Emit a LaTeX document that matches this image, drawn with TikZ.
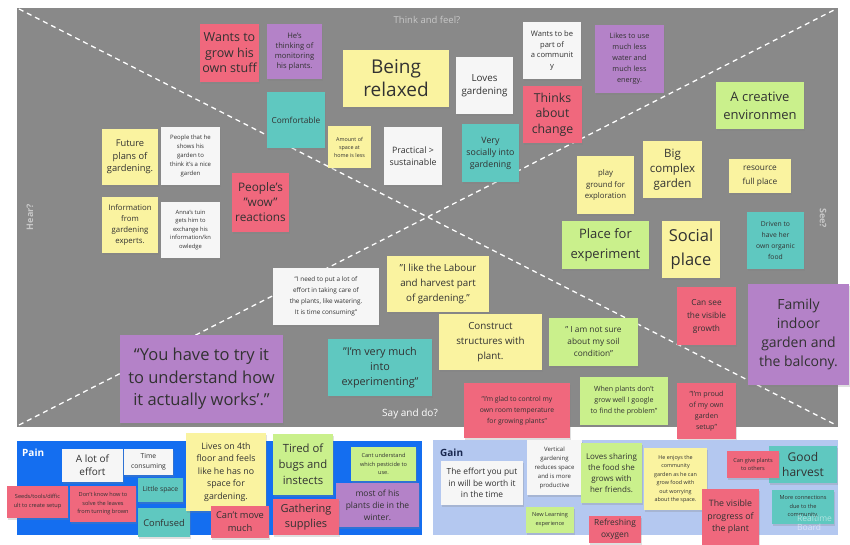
\documentclass[tikz,border=0pt]{standalone}
\usepackage{fontspec}
\setmainfont{Open Sans}
\usetikzlibrary{shadows}

\definecolor{panelgray}{RGB}{137,137,137}
\definecolor{labelgray}{RGB}{200,200,200}
\definecolor{inkN}{RGB}{50,50,50}
\definecolor{pinkN}{RGB}{240,104,125}
\definecolor{purpleN}{RGB}{180,130,200}
\definecolor{yellowN}{RGB}{250,243,160}
\definecolor{whiteN}{RGB}{246,246,246}
\definecolor{tealN}{RGB}{95,200,192}
\definecolor{greenN}{RGB}{202,240,140}
\definecolor{painblue}{RGB}{20,110,240}
\definecolor{gainblue}{RGB}{180,200,240}
\definecolor{gainink}{RGB}{25,40,80}

\newcommand{\fsz}[2]{\fontsize{#1}{#2}\selectfont}

\begin{document}
\begin{tikzpicture}[x=1pt, y=-1pt,
    note/.style={inner sep=1pt, align=center, text=inkN,
      drop shadow={shadow xshift=0.5pt, shadow yshift=-2pt, opacity=0.25}},
    diag/.style={white, line width=1.3pt, dash pattern=on 5pt off 4pt},
    quad/.style={text=labelgray, inner sep=0pt}]
    \useasboundingbox (0,0) rectangle (850,545);

    % Empathy map panel
    \fill[panelgray] (17,8) rectangle (838,427);
    \coordinate (tl) at (19,9);
    \coordinate (tr) at (836,9);
    \coordinate (bl) at (19,425);
    \coordinate (br) at (836,425);
    \draw[diag] (tl) -- (br);
    \draw[diag] (bl) -- (tr);

    % Quadrant labels
    \node[quad, font=\fsz{9.5}{11}] (think) at (427,20) {Think and feel?};
    \node[quad, font=\bfseries\fsz{9}{11}, rotate=90] (hear) at (30,217) {Hear?};
    \node[quad, font=\bfseries\fsz{9}{11}, rotate=-90] (see) at (823,218) {See?};
    \node[text=white, inner sep=0pt, font=\fsz{10}{12}] (say) at (410,414) {Say and do?};

    % Think and feel
    \node[note, fill=pinkN, minimum width=59, minimum height=58, font=\fsz{12.5}{15.5}] (grow) at (229.5,53) {Wants to\\grow his\\own stuff};
    \node[note, fill=purpleN, minimum width=55, minimum height=55, font=\fsz{7.6}{10}] (monitor) at (294.5,51.5) {He's\\thinking of\\monitoring\\his plants.};
    \node[note, fill=tealN, minimum width=58, minimum height=56, font=\fsz{8.3}{10}] (comfort) at (296,120) {Comfortable};
    \node[note, fill=yellowN, minimum width=106, minimum height=57, font=\fsz{19}{23}] (relaxed) at (396,78.5) {Being\\relaxed};
    \node[note, fill=whiteN, minimum width=57, minimum height=57, font=\fsz{9.8}{13}] (loves) at (484.5,85.5) {Loves\\gardening};
    \node[note, fill=whiteN, minimum width=58, minimum height=57, font=\fsz{7.6}{10.5}] (community) at (552,50.5) {Wants to be\\part of\\a communit\\y};
    \node[note, fill=pinkN, minimum width=59, minimum height=57, font=\fsz{12.3}{15.5}] (change) at (552.5,114.5) {Thinks\\about\\change};
    \node[note, fill=purpleN, minimum width=69, minimum height=68, font=\fsz{7.3}{11}] (water) at (629.5,59) {Likes to use\\much less\\water and\\much less\\energy.};
    \node[note, fill=yellowN, minimum width=43, minimum height=42, font=\fsz{5.4}{8}] (space) at (349.5,147) {Amount of\\space at\\home is less};
    \node[note, fill=whiteN, minimum width=58, minimum height=58, font=\fsz{8.8}{12}] (practical) at (413,156) {Practical >\\sustainable};
    \node[note, fill=tealN, minimum width=57, minimum height=58, font=\fsz{8.8}{12}] (socially) at (490.5,153) {Very\\socially into\\gardening};

    % Hear
    \node[note, fill=yellowN, minimum width=56, minimum height=56, font=\fsz{9.3}{12.5}] (future) at (130,157) {Future\\plans of\\gardening.};
    \node[note, fill=whiteN, minimum width=59, minimum height=58, font=\fsz{6}{9}] (nice) at (190.5,156) {People that he\\shows his\\garden to\\think it's a nice\\garden};
    \node[note, fill=pinkN, minimum width=57, minimum height=59, font=\fsz{11.8}{15}] (wow) at (260.5,202.5) {People's\\"wow"\\reactions};
    \node[note, fill=yellowN, minimum width=56, minimum height=56, font=\fsz{7.8}{10.7}] (info) at (130,225) {Information\\from\\gardening\\experts.};
    \node[note, fill=whiteN, minimum width=59, minimum height=56, font=\fsz{5.8}{8.5}] (anna) at (190.5,230) {Anna's tuin\\gets him to\\exchange his\\information/kn\\owledge};

    % See
    \node[note, fill=greenN, minimum width=88, minimum height=47, font=\fsz{13}{18}] (creative) at (760,105.5) {A creative\\environmen};
    \node[note, fill=yellowN, minimum width=57, minimum height=58, font=\fsz{7.8}{11.5}] (play) at (605.5,185) {play\\ground for\\exploration};
    \node[note, fill=yellowN, minimum width=59, minimum height=57, font=\fsz{11.5}{15}] (big) at (672.5,169.5) {Big\\complex\\garden};
    \node[note, fill=yellowN, minimum width=62, minimum height=34, font=\fsz{8.3}{13.5}] (resource) at (760,176) {resource\\full place};
    \node[note, fill=greenN, minimum width=87, minimum height=48, font=\fsz{13}{20}] (experiment) at (605.5,245) {Place for\\experiment};
    \node[note, fill=yellowN, minimum width=58, minimum height=57, font=\fsz{16.5}{24}] (social) at (691,249.5) {Social\\place};
    \node[note, fill=tealN, minimum width=57, minimum height=57, font=\fsz{6.8}{11}] (driven) at (775.5,240.5) {Driven to\\have her\\own organic\\food};
    \node[note, fill=pinkN, minimum width=59, minimum height=58, font=\fsz{8.3}{13}] (visible) at (706.5,316) {Can see\\the visible\\growth};
    \node[note, fill=purpleN, minimum width=101, minimum height=101, font=\fsz{14}{19}] (family) at (798.5,334.5) {Family\\indoor\\garden and\\the balcony.};

    % Say and do
    \node[note, fill=whiteN, minimum width=106, minimum height=57, font=\fsz{6.4}{11}] (effort) at (326,296.5) {"I need to put a lot of\\effort in taking care of\\the plants, like watering.\\It is time consuming"};
    \node[note, fill=yellowN, minimum width=102, minimum height=56, font=\fsz{9.8}{15}] (labour) at (438,284) {"I like the Labour\\and harvest part\\of gardening."};
    \node[note, fill=yellowN, minimum width=103, minimum height=56, font=\fsz{9.8}{15}] (construct) at (490.5,342) {Construct\\structures with\\plant.};
    \node[note, fill=greenN, minimum width=89, minimum height=48, font=\fsz{8.3}{12}] (soil) at (593.5,342) {" I am not sure\\about my soil\\condition"};
    \node[note, fill=tealN, minimum width=104, minimum height=57, font=\fsz{10.8}{15}] (experimenting) at (380,367.5) {"I'm very much\\into\\experimenting"};
    \node[note, fill=purpleN, minimum width=163, minimum height=88, font=\fsz{16.5}{22.5}] (try) at (201.5,379) {“You have to try it\\to understand how\\it actually works'."};
    \node[note, fill=pinkN, minimum width=106, minimum height=55, font=\fsz{6.8}{11}] (glad) at (517,410.5) {"I'm glad to control my\\own room temperature\\for growing plants"};
    \node[note, fill=greenN, minimum width=88, minimum height=48, font=\fsz{7.1}{11}] (google) at (624,401) {When plants don't\\grow well I google\\to find the problem"};
    \node[note, fill=pinkN, minimum width=59, minimum height=56, font=\fsz{7.1}{11}] (proud) at (706.5,411) {"I'm proud\\of my own\\garden\\setup"};

    % Pain
    \fill[painblue] (17,441) rectangle (422,535);
    \node[anchor=west, text=white, inner sep=0pt, font=\bfseries\fsz{10}{12}] (pain) at (22,453) {Pain};
    \node[note, fill=whiteN, minimum width=61, minimum height=33, font=\fsz{10}{13}] (lot) at (92.5,465.5) {A lot of\\effort};
    \node[note, fill=whiteN, minimum width=49, minimum height=26, font=\fsz{6.8}{10.5}] (time) at (148.5,462) {Time\\consuming};
    \node[note, fill=tealN, minimum width=45, minimum height=24, font=\fsz{6.8}{9}] (little) at (160.5,490) {Little space};
    \node[note, fill=pinkN, minimum width=61, minimum height=32, font=\fsz{5.6}{9}] (seeds) at (37.5,502) {Seeds/tools/diffic\\ult to create setup};
    \node[note, fill=pinkN, minimum width=66, minimum height=36, font=\fsz{5.6}{8.5}] (leaves) at (103,504) {Don't know how to\\solve the leaves\\from turning brown};
    \node[note, fill=tealN, minimum width=52, minimum height=29, font=\fsz{9.3}{12}] (confused) at (164,522.5) {Confused};
    \node[note, fill=yellowN, minimum width=80, minimum height=78, font=\fsz{8.8}{12.5}] (floor) at (226,472) {Lives on 4th\\floor and feels\\like he has no\\space for\\gardening.};
    \node[note, fill=pinkN, minimum width=58, minimum height=32, font=\fsz{9.3}{13}] (move) at (240,522) {Can't move\\much};
    \node[note, fill=greenN, minimum width=60, minimum height=61, font=\fsz{11.3}{16}] (bugs) at (303,464.5) {Tired of\\bugs and\\instects};
    \node[note, fill=purpleN, minimum width=83, minimum height=44, font=\fsz{8.5}{12}] (winter) at (377.5,505) {most of his\\plants die in the\\winter.};
    \node[note, fill=pinkN, minimum width=66, minimum height=36, font=\fsz{11}{15}] (gathering) at (306,517) {Gathering\\supplies};
    \node[note, fill=greenN, minimum width=65, minimum height=34, font=\fsz{5.6}{8.5}] (pesticide) at (383.5,464) {Cant understand\\which pesticide to\\use.};

    % Gain
    \fill[gainblue] (433,440) rectangle (838,535);
    \node[anchor=west, text=gainink, inner sep=0pt, font=\bfseries\fsz{10}{12}] (gain) at (440,453) {Gain};
    \node[note, fill=whiteN, minimum width=82, minimum height=44, font=\fsz{8.4}{11.5}] (worth) at (482,483) {The effort you put\\in will be worth it\\in the time};
    \node[note, fill=whiteN, minimum width=55, minimum height=55, font=\fsz{6}{9}] (vertical) at (554.5,467.5) {Vertical\\gardening\\reduces space\\and is more\\productive};
    \node[note, fill=greenN, minimum width=48, minimum height=26, font=\fsz{5.6}{9}] (learning) at (550,520) {New Learning\\experience};
    \node[note, fill=greenN, minimum width=61, minimum height=60, font=\fsz{8}{11}] (sharing) at (611.5,473) {Loves sharing\\the food she\\grows with\\her friends.};
    \node[note, fill=pinkN, minimum width=52, minimum height=27, font=\fsz{8.4}{12}] (oxygen) at (615,529.5) {Refreshing\\oxygen};
    \node[note, fill=yellowN, minimum width=63, minimum height=62, font=\fsz{5.4}{8.5}] (enjoys) at (675.5,479) {He enjoys the\\community\\garden as he can\\grow food with\\out worrying\\about the space.};
    \node[note, fill=pinkN, minimum width=57, minimum height=56, font=\fsz{8.8}{12.5}] (progress) at (730.5,517) {The visible\\progress of\\the plant};
    \node[note, fill=tealN, minimum width=68, minimum height=37, font=\fsz{12}{15}] (harvest) at (803,464.5) {Good\\harvest};
    \node[note, fill=pinkN, minimum width=52, minimum height=27, font=\fsz{5.6}{8.5}] (give) at (753,464.5) {Can give plants\\to others};
    \node[note, fill=tealN, minimum width=62, minimum height=34, font=\fsz{5.6}{8.5}] (connections) at (803,507) {More connections\\due to the\\community.};

    % Watermark
    \node[anchor=west, align=left, inner sep=0pt, text=white, text opacity=0.5, font=\fsz{8.5}{9}] (board) at (797,523) {Realtime\\Board};
\end{tikzpicture}
\end{document}
